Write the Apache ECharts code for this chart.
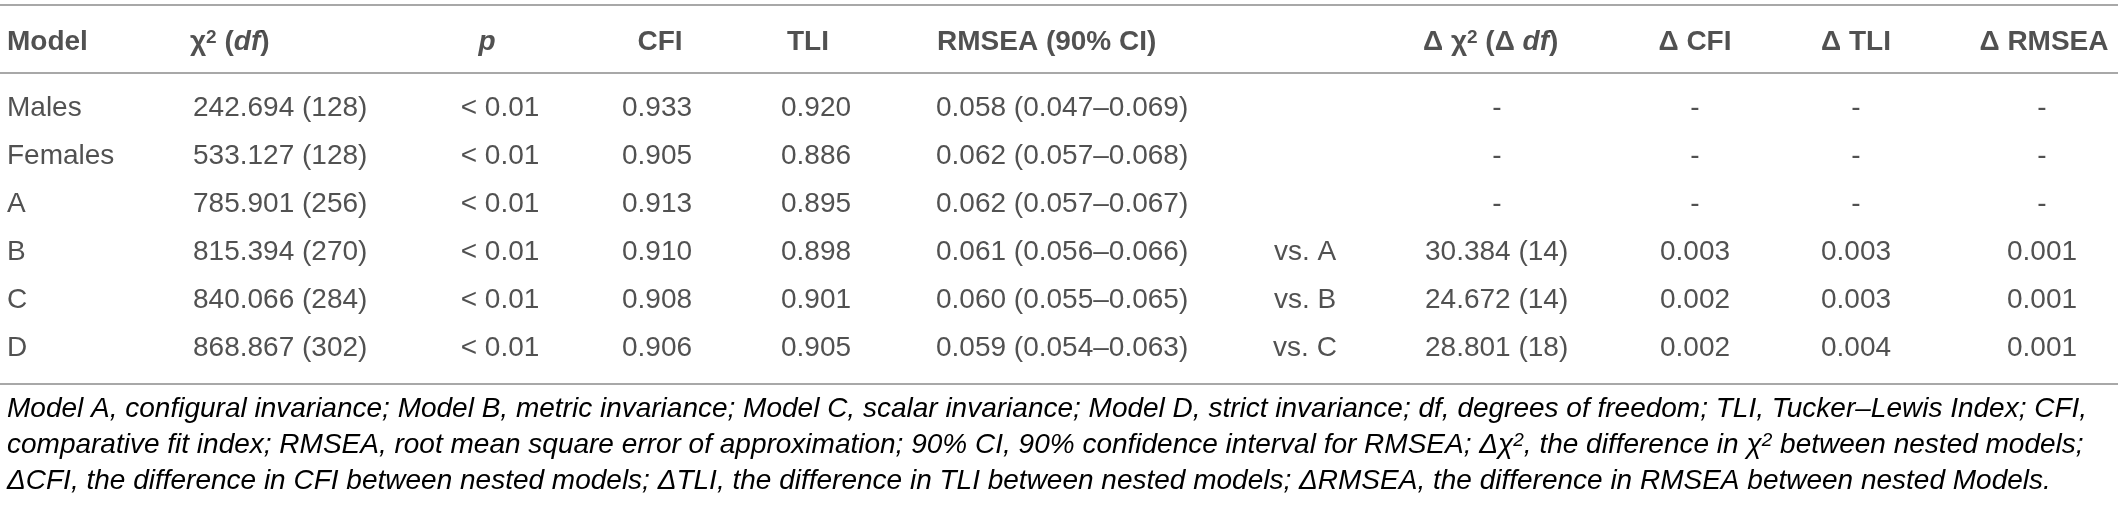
<!DOCTYPE html>
<html>
<head>
<meta charset="utf-8">
<title>table</title>
<script src="https://cdn.jsdelivr.net/npm/echarts@6/dist/echarts.min.js"></script>
<style>
html,body{margin:0;padding:0;background:#fff;}
#main{width:2118px;height:506px;}
</style>
</head>
<body>
<div id="main"></div>
<script>
// 数据
var models = ['Males', 'Females', 'A', 'B', 'C', 'D'];
var chiSq = [242.694, 533.127, 785.901, 815.394, 840.066, 868.867];
var df = [128, 128, 256, 270, 284, 302];
var pText = ['< 0.01', '< 0.01', '< 0.01', '< 0.01', '< 0.01', '< 0.01'];
var cfi = [0.933, 0.905, 0.913, 0.910, 0.908, 0.906];
var tli = [0.920, 0.886, 0.895, 0.898, 0.901, 0.905];
var rmsea = [0.058, 0.062, 0.062, 0.061, 0.060, 0.059];
var ciLow = [0.047, 0.057, 0.057, 0.056, 0.055, 0.054];
var ciHigh = [0.069, 0.068, 0.067, 0.066, 0.065, 0.063];
var compare = ['', '', '', 'vs. A', 'vs. B', 'vs. C'];
var dChiSq = [null, null, null, 30.384, 24.672, 28.801];
var dDf = [null, null, null, 14, 14, 18];
var dCfi = [null, null, null, 0.003, 0.002, 0.002];
var dTli = [null, null, null, 0.003, 0.003, 0.004];
var dRmsea = [null, null, null, 0.001, 0.001, 0.001];

// 表头
var headers = [
    '{b|Model}',
    '{b|χ}{sup|2}{b| (}{bi|df}{b|)}',
    '{bi|p}',
    '{b|CFI}',
    '{b|TLI}',
    '{b|RMSEA (90% CI)}',
    '',
    '{b|Δ χ}{sup|2}{b| (Δ }{bi|df}{b|)}',
    '{b|Δ CFI}',
    '{b|Δ TLI}',
    '{b|Δ RMSEA}'
];

var notes = [
    'Model A, configural invariance; Model B, metric invariance; Model C, scalar invariance; Model D, strict invariance; df, degrees of freedom; TLI, Tucker–Lewis Index; CFI,',
    'comparative fit index; RMSEA, root mean square error of approximation; 90% CI, 90% confidence interval for RMSEA; {i|Δχ}{s|2}{i|, the difference in χ}{s|2}{i| between nested models;}',
    'ΔCFI, the difference in CFI between nested models; ΔTLI, the difference in TLI between nested models; ΔRMSEA, the difference in RMSEA between nested Models.'
];

function f3(v) { return v.toFixed(3); }

// 列的位置和格式
var columns = [
    {x: 7, hx: 7, align: 'left', halign: 'left', text: function (i) { return models[i]; }},
    {x: 193, hx: 190, align: 'left', halign: 'left', text: function (i) { return f3(chiSq[i]) + ' (' + df[i] + ')'; }},
    {x: 500, hx: 487, align: 'center', halign: 'center', text: function (i) { return pText[i]; }},
    {x: 657, hx: 660, align: 'center', halign: 'center', text: function (i) { return f3(cfi[i]); }},
    {x: 816, hx: 808, align: 'center', halign: 'center', text: function (i) { return f3(tli[i]); }},
    {x: 936, hx: 937, align: 'left', halign: 'left', text: function (i) { return f3(rmsea[i]) + ' (' + f3(ciLow[i]) + '–' + f3(ciHigh[i]) + ')'; }},
    {x: 1305, hx: 1305, align: 'center', halign: 'center', text: function (i) { return compare[i]; }},
    {x: 1425, hx: 1423, dash: 1497, align: 'left', halign: 'left', text: function (i) { return dChiSq[i] == null ? null : f3(dChiSq[i]) + ' (' + dDf[i] + ')'; }},
    {x: 1695, hx: 1695, dash: 1695, align: 'center', halign: 'center', text: function (i) { return dCfi[i] == null ? null : f3(dCfi[i]); }},
    {x: 1856, hx: 1856, dash: 1856, align: 'center', halign: 'center', text: function (i) { return dTli[i] == null ? null : f3(dTli[i]); }},
    {x: 2042, hx: 2044, dash: 2042, align: 'center', halign: 'center', text: function (i) { return dRmsea[i] == null ? null : f3(dRmsea[i]); }}
];

var font = 'Liberation Sans';
var ink = '#262626';
var rich = {
    b: {fontFamily: font, fontWeight: 'bold', fontSize: 28, color: ink},
    bi: {fontFamily: font, fontWeight: 'bold', fontStyle: 'italic', fontSize: 28, color: ink},
    sup: {fontFamily: font, fontWeight: 'bold', fontSize: 19, color: ink, verticalAlign: 'top', padding: [0, 0, 8, 0]}
};

var series = [];
columns.forEach(function (c, ci) {
    // 表体
    series.push({
        type: 'scatter',
        xAxisIndex: 0, yAxisIndex: 0,
        symbolSize: 1,
        itemStyle: {color: 'rgba(0,0,0,0)'},
        silent: true,
        data: models.map(function (m, i) {
            var t = c.text(i);
            var isDash = (t === null);
            return {
                value: [isDash ? c.dash : c.x, m],
                label: {align: isDash ? 'center' : c.align},
                txt: isDash ? '-' : t
            };
        }),
        label: {
            show: true,
            position: 'inside',
            verticalAlign: 'middle',
            fontFamily: font,
            fontSize: 28,
            color: ink,
            formatter: function (p) { return p.data.txt; }
        }
    });
    // 表头
    if (headers[ci]) {
        series.push({
            type: 'scatter',
            xAxisIndex: 1, yAxisIndex: 1,
            symbolSize: 1,
            itemStyle: {color: 'rgba(0,0,0,0)'},
            silent: true,
            data: [[c.hx, 'head']],
            label: {
                show: true,
                position: 'inside',
                align: c.halign,
                verticalAlign: 'middle',
                formatter: headers[ci],
                rich: rich
            }
        });
    }
});

// 横线
var rules = [5, 73, 384];
var graphic = rules.map(function (y) {
    return {type: 'line', shape: {x1: 0, y1: y, x2: 2118, y2: y}, style: {stroke: '#a8a8a8', lineWidth: 2}};
});
// 注释
var noteY = [409, 445, 481];
notes.forEach(function (t, i) {
    var txt = t.indexOf('{i|') >= 0 ? t : '{i|' + t + '}';
    if (i === 1) {
        txt = '{i|' + t.substring(0, t.indexOf('{i|')) + '}' + t.substring(t.indexOf('{i|'));
    }
    graphic.push({
        type: 'text',
        x: 7, y: noteY[i],
        style: {
            text: txt,
            verticalAlign: 'middle',
            align: 'left',
            rich: {
                i: {fontFamily: font, fontStyle: 'italic', fontSize: 28, color: ink},
                s: {fontFamily: font, fontStyle: 'italic', fontSize: 19, color: ink, verticalAlign: 'top', padding: [0, 0, 8, 0]}
            }
        }
    });
});

var option = {
    animation: false,
    backgroundColor: '#fff',
    grid: [
        {left: 0, right: 0, top: 84, bottom: 134},
        {left: 0, right: 0, top: 20, height: 44}
    ],
    xAxis: [
        {type: 'value', gridIndex: 0, min: 0, max: 2118, show: false},
        {type: 'value', gridIndex: 1, min: 0, max: 2118, show: false}
    ],
    yAxis: [
        {type: 'category', gridIndex: 0, data: models, inverse: true, show: false},
        {type: 'category', gridIndex: 1, data: ['head'], show: false}
    ],
    graphic: graphic,
    series: series
};

var myChart = echarts.init(document.getElementById('main'));
myChart.setOption(option);
</script>
</body>
</html>
